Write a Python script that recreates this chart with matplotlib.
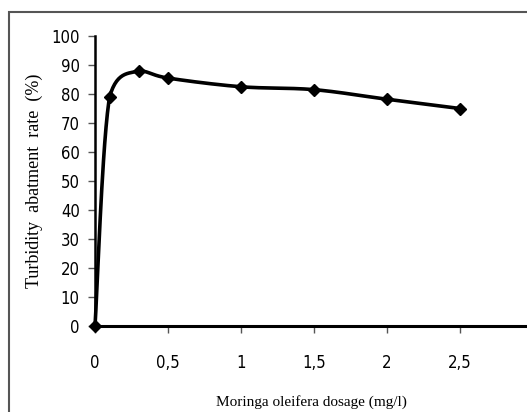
import matplotlib
matplotlib.use("Agg")
from matplotlib import pyplot as plt, patches
import numpy as np

dosage = [0, 0.1, 0.3, 0.5, 1, 1.5, 2, 2.5]
abatement = [0, 79, 88, 85.5, 82.5, 81.5, 78.2, 75]
x_ticks = [0, 0.5, 1, 1.5, 2, 2.5]
x_tick_labels = ["0", "0,5", "1", "1,5", "2", "2,5"]
y_ticks = list(range(0, 101, 10))


def smooth(xs, ys, n=30):
    # excel style smoothed line (bezier through the points), no overshoot
    xs = np.asarray(xs, float)
    ys = np.asarray(ys, float)
    px = np.concatenate([[xs[0]], xs, [xs[-1]]])
    py = np.concatenate([[ys[0]], ys, [ys[-1]]])
    out_x, out_y = [], []
    t = np.linspace(0, 1, n)
    for i in range(1, len(px) - 2):
        p0 = np.array([px[i], py[i]])
        p3 = np.array([px[i + 1], py[i + 1]])
        p1 = p0 + (np.array([px[i + 1], py[i + 1]]) - np.array([px[i - 1], py[i - 1]])) / 6
        p2 = p3 - (np.array([px[i + 2], py[i + 2]]) - np.array([px[i], py[i]])) / 6
        lo, hi = min(p0[1], p3[1]), max(p0[1], p3[1])
        p1[1] = np.clip(p1[1], lo, hi)
        p2[1] = np.clip(p2[1], lo, hi)
        b = ((1 - t) ** 3)[:, None] * p0 + (3 * (1 - t) ** 2 * t)[:, None] * p1 \
            + (3 * (1 - t) * t ** 2)[:, None] * p2 + (t ** 3)[:, None] * p3
        out_x.extend(b[:, 0])
        out_y.extend(b[:, 1])
    return out_x, out_y


fig = plt.figure(figsize=(5.27, 4.12), dpi=100)
fig.patches.append(patches.Rectangle((9 / 527, -0.1), 1.2, 400 / 412 + 0.1,
                                     transform=fig.transFigure, fill=False,
                                     edgecolor="#555555", linewidth=1.5))
ax = fig.add_axes([95 / 527, (412 - 326) / 412, 1 - 95 / 527, (326 - 36) / 412])

sx, sy = smooth(dosage, abatement)
ax.plot(sx, sy, color="black", linewidth=2.6, clip_on=False)
ax.plot(dosage, abatement, linestyle="none", marker="D", markersize=6.5,
        color="black", clip_on=False)

ax.set_xlim(0, 2.96)
ax.set_ylim(0, 100)
ax.set_xticks(x_ticks)
ax.set_xticklabels(x_tick_labels)
ax.set_yticks(y_ticks)
for s in ["top", "right"]:
    ax.spines[s].set_visible(False)
ax.spines["left"].set_linewidth(1.8)
ax.spines["bottom"].set_linewidth(2.2)
ax.tick_params(axis="both", length=5, width=1, color="#555555",
               labelsize=12, pad=6)
ax.tick_params(axis="x", pad=15)
for lbl in ax.get_xticklabels() + ax.get_yticklabels():
    lbl.set_fontfamily("DejaVu Sans")
    lbl.set_fontstretch("condensed")

ax.set_xlabel("Moringa oleifera dosage (mg/l)", fontfamily="Liberation Serif",
              fontsize=11, labelpad=17)
ax.set_ylabel("Turbidity  abatment  rate  (%)", fontfamily="Liberation Serif",
              fontsize=13, labelpad=6)

fig.savefig("out.png", dpi=100)
